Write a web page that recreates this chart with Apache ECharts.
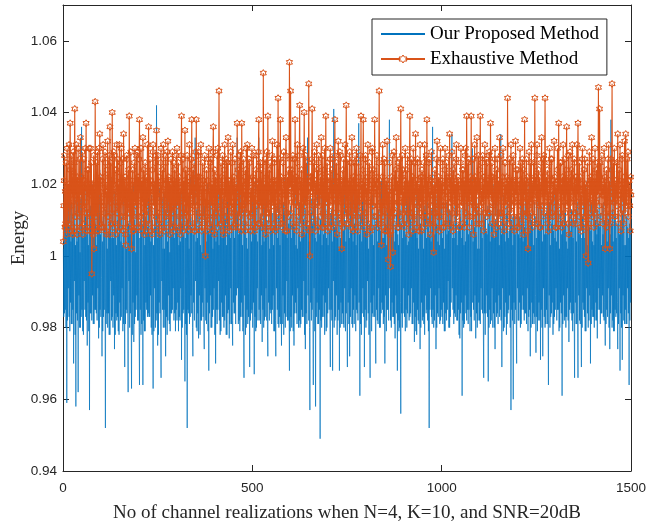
<!DOCTYPE html>
<html><head><meta charset="utf-8">
<script src="https://cdn.jsdelivr.net/npm/echarts@6/dist/echarts.min.js"></script>
<style>html,body{margin:0;padding:0;background:#fff}#c{width:659px;height:523px}</style>
</head><body><div id="c"></div>
<script>
// axis ticks
const xTicks = [0, 500, 1000, 1500];
const yTicks = [0.94, 0.96, 0.98, 1.00, 1.02, 1.04, 1.06];
// realization index of the first value, and spacing
const sampleStart = 1, sampleStep = 1;
// "Our Proposed Method" energy per channel realization
const proposed = [
1.002,0.983,1.013,0.984,1.017,0.985,1.015,0.980,1.006,0.959,1.011,0.982,1.010,0.991,1.019,0.983,1.008,0.979,1.021,0.987,1.004,0.981,1.015,0.981,1.006,0.985,1.012,0.970,1.009,0.993,1.017,0.978,1.003,0.958,1.014,0.984,1.004,0.982,1.018,0.962,1.007,0.989,1.012,0.980,1.001,0.980,1.016,0.983,1.036,0.985,1.010,0.979,1.005,0.978,1.008,0.993,1.020,0.985,1.011,0.983,1.019,0.982,1.006,0.975,1.013,0.987,1.003,0.979,1.017,0.957,1.009,0.984,1.014,0.984,1.002,
0.982,1.010,0.989,1.020,0.981,1.005,0.981,1.016,0.985,1.009,0.985,1.019,0.984,1.003,0.982,1.013,0.991,1.008,0.977,1.012,0.980,1.024,0.985,1.006,0.983,1.015,0.994,0.972,1.004,0.979,1.011,0.983,1.017,0.985,1.008,0.987,0.952,1.013,0.981,1.016,0.984,1.002,0.980,1.019,0.984,1.007,0.978,1.014,0.978,1.010,0.993,1.022,0.982,1.005,0.983,1.012,0.980,1.005,0.989,1.018,0.974,1.009,0.978,1.018,0.984,1.003,0.982,1.015,0.983,1.010,0.979,1.006,0.978,1.013,0.987,
1.015,0.982,1.004,0.983,1.011,0.991,1.003,0.979,1.018,0.981,1.007,0.985,0.969,1.014,0.981,1.012,0.985,1.002,0.984,1.016,0.984,0.962,1.009,0.993,1.019,0.980,1.006,0.984,1.013,0.983,0.963,1.004,0.978,1.008,0.987,1.020,0.976,1.010,0.981,1.014,0.983,1.001,0.985,1.017,0.989,1.021,0.982,1.007,0.982,1.012,0.980,0.964,1.005,0.985,1.010,0.978,1.016,0.981,1.009,0.993,0.964,1.014,0.982,1.017,0.979,1.003,0.979,1.011,0.987,1.006,0.985,1.018,0.983,1.008,0.984,
1.023,0.983,1.006,0.983,1.014,0.989,1.004,0.980,1.017,0.978,1.010,0.985,0.963,1.003,0.979,1.013,0.991,1.008,0.980,1.015,0.982,1.042,0.984,1.005,0.975,1.012,0.978,1.009,0.987,1.019,0.984,1.006,0.981,0.966,1.011,0.993,1.016,0.985,1.002,0.980,1.018,0.985,1.002,0.980,1.013,0.972,1.007,0.983,1.020,0.978,1.004,0.982,1.016,0.989,1.011,0.981,1.001,0.979,1.013,0.984,1.006,0.984,1.017,0.985,1.009,0.991,1.018,0.982,1.005,0.984,1.012,0.979,1.008,0.985,1.015,
0.982,1.008,0.987,1.015,0.979,1.003,0.983,1.012,0.982,1.004,0.991,1.018,0.971,1.009,0.980,1.019,0.984,1.006,0.985,1.014,0.993,0.965,1.005,0.981,1.012,0.978,1.017,0.952,1.010,0.985,1.007,0.984,1.002,0.981,1.016,0.983,1.022,0.989,1.008,0.984,1.011,0.980,0.972,1.006,0.987,1.010,0.982,1.019,1.033,0.993,1.004,0.980,1.013,0.979,1.005,0.984,1.015,0.977,1.008,0.989,1.016,0.978,1.003,0.982,1.012,0.982,1.001,0.987,1.018,0.983,1.007,0.981,0.974,1.014,0.991,
1.013,0.982,1.004,0.981,1.011,0.987,1.020,0.979,1.007,0.968,1.015,0.984,1.006,0.989,1.018,0.980,1.009,0.980,1.017,0.983,1.002,0.985,1.013,0.991,1.009,0.978,1.016,0.970,1.004,0.985,1.014,0.981,1.007,0.985,1.019,0.993,1.003,0.982,1.012,0.978,1.008,0.979,1.021,0.987,1.005,0.983,1.016,0.983,1.008,0.980,1.014,0.982,1.010,0.989,1.012,0.978,1.003,0.978,1.017,0.984,1.018,0.985,1.006,0.977,1.011,0.981,1.005,0.991,1.015,0.981,1.009,0.982,0.975,1.013,0.987,
1.011,0.984,1.005,0.984,1.014,0.981,1.016,0.989,1.008,1.033,0.991,1.012,0.981,1.006,0.982,1.007,0.979,1.018,0.983,1.011,0.987,1.019,0.983,1.003,0.979,1.013,0.980,0.966,1.009,0.989,1.010,0.978,1.016,0.980,1.005,0.985,1.002,0.981,1.019,0.983,1.012,0.993,0.969,1.007,0.982,1.015,0.984,1.004,0.985,1.017,0.980,1.008,0.987,1.013,0.967,1.010,0.983,1.021,0.979,1.006,0.980,1.014,0.991,1.004,0.982,1.019,1.033,0.985,1.008,0.982,1.011,0.981,1.012,0.989,1.003,
0.976,1.009,0.985,1.017,0.980,1.004,0.982,1.015,0.983,1.006,0.991,1.018,0.982,1.010,0.979,0.972,1.006,0.987,1.013,0.982,1.002,0.985,1.016,0.984,1.020,0.981,1.007,0.985,1.012,0.989,1.003,0.979,1.017,0.979,1.008,0.982,0.972,1.014,0.991,1.011,0.985,1.005,0.981,1.019,0.980,1.016,0.983,1.003,0.981,1.010,0.987,0.975,1.007,0.981,1.008,0.989,1.015,0.978,1.012,0.984,1.022,0.980,1.006,0.983,1.016,0.993,1.005,0.982,1.013,0.982,1.009,0.985,0.968,1.011,0.979,
1.014,0.983,1.005,0.980,1.012,0.989,1.009,0.979,1.019,0.975,1.008,0.984,1.018,0.987,1.003,0.984,1.015,0.981,1.002,0.991,1.011,0.980,1.006,0.982,1.015,0.980,1.004,0.981,1.017,0.985,1.007,0.983,1.014,0.983,1.010,0.993,1.020,0.978,1.006,0.974,1.013,0.984,1.010,0.981,1.018,1.033,0.989,1.008,0.982,1.004,0.980,0.957,1.012,0.987,1.012,0.982,1.016,0.985,1.009,0.985,0.964,1.014,0.991,1.016,0.979,1.005,0.958,1.011,0.983,1.004,0.987,1.017,0.981,1.008,0.981,
1.011,0.985,1.006,0.949,1.010,0.982,1.017,0.980,1.003,0.983,1.014,0.989,1.006,0.983,1.019,0.978,1.009,0.987,1.021,0.979,1.005,0.980,1.013,0.984,1.003,0.991,1.016,0.985,1.007,0.981,0.969,1.012,0.985,1.013,0.982,1.004,0.968,1.015,0.993,1.041,0.980,1.008,0.982,1.011,0.983,1.008,0.989,1.018,0.978,1.006,0.982,1.019,0.985,1.002,0.968,1.010,0.980,1.005,0.987,1.016,0.981,1.012,0.984,1.014,0.981,1.007,0.980,1.017,0.991,1.010,0.979,1.004,0.984,1.013,0.983,
0.969,1.008,0.987,1.012,0.981,1.005,0.972,1.016,0.983,1.018,0.991,1.007,0.981,1.011,0.980,1.004,0.985,1.019,0.981,1.009,0.989,1.015,0.979,1.003,0.985,1.014,0.984,1.009,0.982,1.017,1.037,0.987,1.006,0.961,1.012,0.981,1.011,0.978,1.004,0.984,1.018,0.991,1.020,0.983,1.008,0.969,1.013,0.985,1.007,0.980,1.015,0.982,1.010,0.993,1.016,0.984,1.002,0.978,1.009,0.982,0.966,1.014,0.987,1.013,0.979,1.006,0.984,1.017,0.983,1.003,0.989,1.012,0.983,1.008,0.981,
0.970,1.011,0.985,1.017,0.982,1.004,0.981,1.013,0.991,1.008,0.980,1.018,0.980,1.007,0.984,1.021,0.987,1.005,0.985,1.015,0.981,1.005,0.983,1.012,0.970,1.009,0.989,1.014,0.979,1.003,0.985,1.016,0.985,1.010,0.982,1.019,1.038,0.991,1.007,0.982,1.012,0.980,1.006,0.987,1.014,0.983,1.010,0.983,1.019,0.981,1.004,0.977,1.008,0.989,1.012,0.984,1.017,0.968,1.006,0.982,1.003,0.979,1.015,0.980,1.013,0.987,0.956,1.009,0.984,1.015,0.980,1.005,0.984,1.011,0.991,
1.009,0.983,1.016,0.979,1.006,0.985,1.018,0.980,1.003,0.984,1.012,0.989,1.004,0.982,1.017,0.983,1.010,0.984,1.013,0.991,1.006,0.981,1.015,0.981,1.022,0.987,1.008,0.976,1.011,0.983,1.007,0.979,1.019,0.978,1.005,0.985,1.016,0.982,1.002,0.981,1.013,0.993,0.974,1.009,0.980,1.011,0.987,1.018,0.982,1.007,0.983,1.002,0.981,1.014,0.978,1.012,0.989,1.019,0.984,1.005,0.985,1.016,0.982,1.008,0.979,1.011,0.952,1.006,0.985,1.014,0.991,1.004,0.983,1.013,0.981,
1.036,0.985,1.007,0.980,1.014,0.982,1.006,0.989,1.018,0.974,1.009,0.980,1.017,0.984,1.004,0.983,1.012,0.991,1.003,0.981,1.016,0.982,1.008,0.985,1.020,0.983,1.005,0.981,1.015,0.987,1.010,0.979,1.002,0.979,1.011,0.984,1.015,0.982,1.006,0.985,1.017,0.993,1.007,0.980,1.013,0.980,1.010,0.983,1.012,0.987,1.019,1.034,0.991,1.005,0.985,1.009,0.981,1.005,0.984,1.016,0.983,1.013,0.989,1.018,0.982,1.003,0.982,1.007,0.985,1.009,0.978,1.014,0.977,1.011,0.984,
1.013,0.987,1.005,0.961,1.009,0.982,1.016,0.980,1.003,0.981,1.012,0.989,1.004,0.984,1.017,0.982,1.010,0.985,1.021,0.981,1.006,0.985,1.014,0.991,0.979,1.007,0.983,1.010,0.979,1.018,1.030,0.987,1.004,0.985,1.011,0.982,1.008,0.989,1.015,0.977,1.006,0.984,1.014,0.980,1.002,0.982,1.016,0.987,1.002,0.982,1.012,0.981,1.008,0.991,1.018,0.985,1.005,0.984,1.013,0.981,0.966,1.010,0.984,1.011,0.978,1.017,0.984,1.007,0.989,1.006,0.983,1.014,0.965,1.009,0.980,
1.015,0.985,1.004,0.981,1.012,0.982,1.009,0.991,1.018,0.980,1.006,0.984,1.020,0.980,1.005,0.974,1.010,0.987,1.007,0.983,1.016,0.984,1.013,0.981,1.013,0.989,1.003,0.983,1.008,0.985,1.034,0.982,1.006,0.969,1.011,0.991,1.012,0.979,1.017,0.980,1.009,0.983,1.004,0.987,1.014,0.978,1.012,0.981,1.017,0.984,1.005,0.985,1.007,0.989,1.008,0.980,1.019,0.957,1.010,0.985,1.011,0.982,1.003,0.960,1.013,0.987,1.016,0.981,1.006,0.985,1.011,0.984,0.970,1.008,0.991,
1.014,0.982,1.006,0.982,1.011,0.987,1.005,0.980,1.017,0.981,1.009,0.985,1.019,0.989,1.004,0.985,1.014,0.982,1.008,0.984,1.016,0.984,1.006,0.981,1.012,0.991,1.003,0.979,1.010,0.983,1.021,0.985,1.007,0.972,1.012,0.980,1.010,0.987,1.018,0.981,1.008,0.984,1.003,0.981,1.015,0.983,1.011,0.989,0.973,1.005,0.983,1.016,0.979,1.009,0.982,1.013,0.987,1.007,0.982,1.019,0.971,1.010,0.985,1.013,0.980,1.004,0.972,1.015,0.991,1.018,0.983,1.006,0.980,1.012,0.981,
1.006,0.985,1.014,0.981,1.009,0.982,0.964,1.011,0.989,1.015,0.980,1.003,0.983,1.016,0.984,1.009,0.987,1.018,0.978,1.007,0.981,1.020,0.983,1.005,0.985,1.012,0.991,1.004,0.982,1.017,0.985,1.008,0.985,1.012,0.979,1.002,0.980,1.014,0.987,1.017,0.984,1.006,0.961,1.010,0.981,1.008,0.989,1.015,0.982,1.012,0.983,1.014,0.980,1.004,0.983,1.009,0.991,1.002,0.982,1.016,0.976,1.011,0.985,1.019,0.987,1.007,0.984,1.013,0.982,1.010,0.979,1.005,0.984,1.016,0.984,
0.966,1.010,0.987,1.013,0.981,1.004,0.981,1.015,0.984,0.966,1.008,0.989,1.016,0.982,1.006,0.981,1.012,0.985,0.969,1.005,0.980,1.011,0.987,1.017,0.985,1.009,0.983,1.005,0.979,1.014,0.979,1.011,0.991,1.021,0.984,1.003,0.980,1.016,0.982,1.008,0.989,1.019,0.970,1.007,0.981,1.015,0.985,1.004,0.983,1.012,0.983,1.003,0.980,1.016,0.982,1.010,0.987,1.018,0.982,1.006,0.977,1.013,0.985,1.009,0.991,1.017,0.985,1.008,0.981,1.012,0.984,1.003,0.984,1.014,0.989,
1.006,0.983,1.015,0.982,1.010,0.987,0.975,1.008,0.981,1.017,0.985,1.004,0.983,1.012,0.991,1.010,0.980,1.018,0.974,1.006,0.984,1.038,0.989,1.009,0.980,1.013,0.982,1.004,0.979,1.016,0.979,1.011,0.985,1.019,0.983,1.005,0.984,1.009,0.987,0.974,1.014,0.981,1.012,0.991,1.006,0.968,1.010,0.984,1.008,0.980,1.017,0.971,1.012,0.989,1.015,0.982,1.003,0.981,1.016,0.985,1.003,0.981,1.011,0.981,1.008,0.991,1.014,0.984,1.005,0.964,1.009,0.982,1.010,0.987,1.013
];
// "Exhaustive Method" energy per channel realization
const exhaustive = [
1.004,1.014,1.021,1.028,1.008,1.018,1.009,1.026,1.006,1.019,1.030,1.012,1.008,1.020,1.015,1.031,1.009,1.024,1.037,1.017,1.007,1.014,1.028,1.019,1.022,1.006,1.029,1.007,1.018,1.026,1.041,1.011,1.021,1.017,1.031,1.008,1.006,1.022,1.015,1.030,1.012,1.020,1.011,1.027,1.008,1.033,1.017,1.022,1.020,1.008,1.029,1.006,1.019,1.014,1.027,1.009,1.021,1.012,1.030,1.018,1.037,1.015,1.007,1.008,1.024,1.019,1.024,1.012,1.030,1.007,1.020,1.011,1.030,1.017,1.026,
0.995,1.009,1.020,1.018,1.006,1.028,1.002,1.014,1.008,1.043,1.019,1.011,1.015,1.026,1.007,1.029,1.012,1.021,1.007,1.030,1.017,1.034,1.009,1.022,1.021,1.008,1.015,1.008,1.027,1.019,1.031,1.014,1.008,1.012,1.022,1.029,1.026,1.007,1.018,1.006,1.017,1.024,1.032,1.011,1.020,1.019,1.028,1.006,1.036,1.015,1.026,1.009,1.021,1.012,1.040,1.018,1.008,1.017,1.029,1.020,1.028,1.009,1.015,1.006,1.024,1.018,1.031,1.012,1.027,1.014,1.020,1.007,1.022,1.031,1.015,
1.008,1.019,1.026,1.030,1.011,1.017,1.018,1.027,1.007,1.034,1.015,1.021,1.011,1.022,1.006,1.003,1.017,1.028,1.027,1.008,1.019,1.015,1.024,1.012,1.039,1.018,1.009,1.020,1.029,1.014,1.002,1.012,1.021,1.024,1.007,1.018,1.007,1.026,1.015,1.030,1.014,1.020,1.014,1.028,1.008,1.029,1.011,1.022,1.008,1.019,1.027,1.038,1.017,1.011,1.019,1.030,1.007,1.009,1.021,1.015,1.033,1.012,1.024,1.017,1.006,1.020,1.026,1.018,1.009,1.007,1.022,1.014,1.031,1.015,1.021,
1.036,1.018,1.009,1.012,1.027,1.019,1.021,1.007,1.015,1.006,1.024,1.029,1.031,1.014,1.020,1.018,1.008,1.026,1.028,1.017,1.011,1.035,1.020,1.015,1.009,1.028,1.018,1.022,1.012,1.007,1.006,1.019,1.026,1.030,1.009,1.017,1.015,1.024,1.021,1.031,1.014,1.008,1.007,1.020,1.028,1.026,1.011,1.018,1.017,1.029,1.012,1.032,1.015,1.022,1.011,1.021,1.006,1.020,1.009,1.027,1.008,1.018,1.014,1.029,1.012,1.021,1.014,1.026,1.007,1.024,1.017,1.019,1.008,1.028,1.015,
1.030,1.014,1.020,1.015,1.026,1.008,1.022,1.011,1.018,1.006,1.019,1.028,1.039,1.017,1.012,1.018,1.027,1.007,1.009,1.021,1.015,1.035,1.012,1.024,1.020,1.008,1.017,1.028,1.018,1.011,1.007,1.015,1.022,1.031,1.009,1.019,1.012,1.027,1.017,1.038,1.019,1.008,1.017,1.024,1.014,1.026,1.007,1.020,1.007,1.029,1.018,1.038,1.014,1.022,1.019,1.009,1.028,1.029,1.017,1.012,1.011,1.022,1.019,1.031,1.015,1.007,1.008,1.020,1.026,1.021,1.011,1.018,1.015,1.028,1.009,
1.000,1.011,1.019,1.024,1.015,1.007,1.012,1.021,1.027,1.030,1.009,1.018,1.008,1.026,1.015,1.027,1.014,1.020,1.017,1.007,1.029,1.036,1.019,1.011,1.006,1.024,1.015,1.022,1.012,1.018,1.014,1.028,1.008,1.030,1.017,1.021,1.046,1.020,1.012,1.019,1.009,1.026,1.009,1.022,1.017,1.028,1.014,1.007,1.006,1.018,1.024,1.031,1.011,1.020,1.018,1.027,1.009,1.026,1.015,1.019,1.033,1.008,1.021,1.007,1.020,1.014,1.021,1.029,1.011,1.012,1.018,1.026,1.031,1.015,1.008,
1.015,1.022,1.009,1.027,1.012,1.019,1.008,1.020,1.015,1.037,1.018,1.024,1.019,1.008,1.028,1.011,1.026,1.017,1.029,1.014,1.007,1.037,1.021,1.012,1.014,1.019,1.027,1.022,1.009,1.018,1.007,1.024,1.015,1.030,1.012,1.020,1.031,1.017,1.008,1.017,1.027,1.021,1.026,1.011,1.018,1.007,1.019,1.012,1.030,1.015,1.022,1.012,1.028,1.009,1.021,1.007,1.017,1.008,1.024,1.019,1.028,1.014,1.020,1.018,1.009,1.029,1.038,1.015,1.021,1.009,1.026,1.014,1.024,1.018,1.008,
1.015,1.026,1.011,1.051,1.019,1.014,1.020,1.008,1.027,1.006,1.018,1.022,1.029,1.012,1.019,1.039,1.015,1.009,1.012,1.024,1.018,1.026,1.007,1.020,1.008,1.028,1.015,1.032,1.014,1.021,1.018,1.009,1.026,1.027,1.017,1.007,1.008,1.021,1.019,1.031,1.012,1.015,1.044,1.020,1.011,1.014,1.027,1.018,1.038,1.009,1.022,1.021,1.017,1.008,1.009,1.026,1.019,1.029,1.014,1.021,1.017,1.007,1.028,1.033,1.018,1.012,1.007,1.022,1.017,1.024,1.011,1.020,1.054,1.019,1.027,
1.046,1.021,1.012,1.015,1.024,1.018,1.028,1.009,1.020,1.008,1.027,1.015,1.038,1.017,1.022,1.019,1.007,1.026,1.031,1.014,1.019,1.011,1.021,1.028,1.042,1.018,1.009,1.021,1.012,1.024,1.006,1.019,1.015,1.030,1.011,1.021,1.040,1.020,1.014,1.017,1.028,1.008,1.026,1.015,1.020,1.009,1.022,1.017,1.048,1.019,1.007,1.000,1.012,1.022,1.022,1.018,1.027,1.041,1.015,1.011,1.014,1.026,1.019,1.029,1.009,1.021,1.007,1.020,1.015,1.031,1.017,1.024,1.018,1.008,1.028,
1.026,1.014,1.019,1.011,1.022,1.017,1.033,1.018,1.008,1.020,1.028,1.012,1.008,1.017,1.024,1.030,1.009,1.019,1.039,1.015,1.021,1.015,1.026,1.007,1.022,1.011,1.018,1.008,1.020,1.027,1.030,1.014,1.017,1.018,1.024,1.009,1.027,1.008,1.020,1.012,1.019,1.028,1.038,1.017,1.011,1.021,1.026,1.015,1.006,1.018,1.022,1.032,1.012,1.019,1.017,1.029,1.009,1.028,1.015,1.021,1.002,1.011,1.018,1.024,1.008,1.027,1.014,1.021,1.017,1.031,1.012,1.020,1.042,1.019,1.009,
1.019,1.027,1.012,1.009,1.020,1.017,1.029,1.011,1.021,1.015,1.026,1.008,1.033,1.018,1.014,1.007,1.022,1.019,1.026,1.012,1.028,1.018,1.008,1.020,1.030,1.015,1.011,1.007,1.019,1.026,1.022,1.014,1.017,1.012,1.028,1.020,1.039,1.009,1.018,1.020,1.015,1.024,1.038,1.017,1.008,1.011,1.021,1.027,1.028,1.012,1.019,1.006,1.018,1.022,1.031,1.015,1.009,1.017,1.026,1.020,1.024,1.007,1.015,1.008,1.021,1.029,1.030,1.014,1.018,1.014,1.024,1.011,1.038,1.019,1.021,
1.019,1.011,1.022,1.028,1.017,1.008,1.009,1.020,1.026,1.046,1.018,1.012,1.021,1.009,1.015,1.003,1.014,1.022,1.031,1.011,1.019,1.015,1.027,1.007,1.026,1.017,1.020,1.007,1.021,1.014,1.032,1.012,1.018,0.999,1.008,1.020,1.018,1.026,1.006,0.997,1.007,1.017,1.022,1.011,1.028,1.001,1.015,1.009,1.029,1.019,1.012,1.012,1.024,1.018,1.033,1.014,1.021,1.019,1.008,1.026,1.008,1.020,1.015,1.027,1.011,1.019,1.041,1.017,1.022,1.015,1.028,1.009,1.024,1.012,1.018,
1.008,1.021,1.015,1.030,1.014,1.019,1.017,1.024,1.009,1.028,1.012,1.020,1.006,1.018,1.026,1.039,1.015,1.011,1.020,1.027,1.017,1.012,1.022,1.007,1.030,1.011,1.019,1.009,1.026,1.015,1.034,1.017,1.021,1.018,1.008,1.027,1.026,1.014,1.019,1.007,1.020,1.012,1.031,1.015,1.022,1.015,1.007,1.024,1.022,1.018,1.011,1.008,1.026,1.020,1.031,1.012,1.017,1.019,1.028,1.009,1.038,1.015,1.021,1.011,1.020,1.026,1.027,1.009,1.018,1.006,1.021,1.014,1.029,1.017,1.022,
1.017,1.009,1.020,1.001,1.012,1.018,1.024,1.015,1.008,1.012,1.027,1.019,1.032,1.017,1.011,1.019,1.022,1.014,1.007,1.018,1.026,1.030,1.011,1.020,1.014,1.021,1.017,1.027,1.008,1.015,1.008,1.019,1.024,1.030,1.014,1.009,1.018,1.026,1.020,1.022,1.012,1.017,1.009,1.028,1.019,1.034,1.015,1.022,1.015,1.008,1.021,1.029,1.018,1.012,1.007,1.024,1.017,1.026,1.014,1.020,1.019,1.009,1.027,1.031,1.017,1.012,1.011,1.022,1.019,1.021,1.015,1.008,1.008,1.020,1.026,
1.030,1.014,1.019,1.015,1.024,1.009,1.024,1.017,1.021,1.008,1.020,1.028,1.030,1.012,1.018,1.039,1.019,1.011,1.018,1.026,1.015,1.027,1.008,1.020,1.011,1.022,1.017,1.039,1.015,1.021,1.020,1.011,1.027,1.006,1.018,1.014,1.031,1.012,1.022,1.014,1.021,1.009,1.033,1.017,1.019,1.021,1.028,1.012,1.009,1.019,1.024,1.039,1.014,1.018,1.017,1.009,1.026,1.028,1.015,1.020,1.007,1.022,1.017,1.031,1.012,1.019,1.019,1.027,1.011,1.026,1.017,1.021,1.012,1.020,1.028,
1.029,1.012,1.019,1.037,1.017,1.022,1.015,1.026,1.009,1.022,1.014,1.018,1.006,1.020,1.027,1.030,1.011,1.017,1.018,1.024,1.008,1.027,1.015,1.020,1.009,1.021,1.017,1.033,1.012,1.019,1.020,1.028,1.011,1.012,1.019,1.022,1.030,1.009,1.015,1.007,1.018,1.026,1.026,1.014,1.020,1.017,1.022,1.011,1.044,1.018,1.015,1.021,1.009,1.027,1.008,1.020,1.017,1.031,1.012,1.021,1.014,1.026,1.018,1.028,1.011,1.019,1.007,1.021,1.015,1.032,1.017,1.024,1.019,1.008,1.020,
1.024,1.015,1.008,1.011,1.021,1.018,1.030,1.014,1.026,1.015,1.009,1.020,1.027,1.018,1.012,1.006,1.024,1.017,1.038,1.015,1.021,1.020,1.011,1.027,1.012,1.022,1.007,1.002,1.014,1.019,1.029,1.017,1.009,1.018,1.026,1.015,1.031,1.012,1.020,1.008,1.021,1.017,1.026,1.011,1.019,1.044,1.018,1.022,1.017,1.009,1.028,1.031,1.015,1.020,1.009,1.024,1.014,1.022,1.017,1.008,1.008,1.019,1.026,1.033,1.014,1.018,1.019,1.027,1.011,1.028,1.012,1.021,1.044,1.020,1.015,
1.014,1.022,1.018,1.024,1.009,1.017,1.007,1.020,1.026,1.030,1.015,1.011,1.017,1.027,1.020,1.027,1.012,1.018,1.011,1.021,1.015,1.032,1.017,1.022,1.020,1.008,1.019,1.008,1.018,1.024,1.030,1.014,1.009,1.037,1.019,1.021,1.015,1.026,1.012,1.026,1.011,1.020,1.008,1.022,1.017,1.031,1.015,1.009,1.019,1.027,1.021,1.012,1.018,1.024,1.036,1.014,1.019,1.021,1.009,1.028,1.006,1.020,1.015,1.029,1.012,1.022,1.015,1.024,1.018,1.031,1.017,1.011,1.009,1.021,1.027,
1.026,1.012,1.019,1.018,1.022,1.009,1.031,1.015,1.021,1.037,1.019,1.014,1.011,1.026,1.018,1.022,1.008,1.017,1.007,1.020,1.027,1.030,1.014,1.019,1.015,1.024,1.011,1.027,1.009,1.020,1.000,1.011,1.018,1.019,1.026,1.008,0.998,1.009,1.020,1.029,1.015,1.022,1.012,1.021,1.017,1.033,1.018,1.011,1.020,1.027,1.015,1.008,1.019,1.022,1.030,1.012,1.020,1.015,1.024,1.009,1.026,1.017,1.021,1.047,1.020,1.014,1.041,1.018,1.026,1.018,1.011,1.021,1.028,1.017,1.019,
1.009,1.020,1.017,1.030,1.014,1.022,1.002,1.012,1.019,1.024,1.008,1.018,1.015,1.027,1.011,1.031,1.017,1.021,1.002,1.015,1.009,1.027,1.019,1.024,1.048,1.018,1.012,1.019,1.026,1.015,1.030,1.011,1.020,1.011,1.021,1.017,1.026,1.014,1.019,1.034,1.018,1.009,1.017,1.024,1.020,1.031,1.012,1.017,1.007,1.021,1.027,1.028,1.015,1.018,1.020,1.009,1.022,1.032,1.017,1.012,1.034,1.020,1.015,1.014,1.027,1.019,1.029,1.011,1.021,1.021,1.018,1.014,1.007,1.022,1.017
];
const seriesNames = ['Our Proposed Method', 'Exhaustive Method'];
const xName = 'No of channel realizations when N=4, K=10, and SNR=20dB';
const yName = 'Energy';

const toPairs = arr => arr.map((v, i) => [sampleStart + sampleStep * i, v]);
const C = '#262626';
const BLUE = '#0072BD', ORANGE = '#D95319';
const hex = 'path://M0 -10 L2.887 -5 L8.66 -5 L5.774 0 L8.66 5 L2.887 5 L0 10 L-2.887 5 L-8.66 5 L-5.774 0 L-8.66 -5 L-2.887 -5 Z';
const sans = 'Liberation Sans, Arial, sans-serif';
const serif = 'Liberation Serif, Times New Roman, serif';

const axCommon = {
  axisLine: {show: true, onZero: false, lineStyle: {color: C, width: 1}},
  splitLine: {show: false},
  nameMoveOverlap: false
};
const tick = vals => ({show: true, inside: true, length: 6, customValues: vals, lineStyle: {color: C, width: 1}});
const chart = echarts.init(document.getElementById('c'));
chart.setOption({
  animation: false,
  backgroundColor: '#fff',
  grid: {left: 63, top: 5, width: 568, height: 466, show: false, outerBoundsMode: 'none', containLabel: false},
  legend: {
    left: 372, top: 19, orient: 'vertical',
    padding: [4, 8, 5, 8], itemGap: 3, itemWidth: 44, itemHeight: 10,
    borderColor: C, borderWidth: 1, backgroundColor: '#fff',
    textStyle: {fontFamily: serif, fontSize: 19, color: '#000', lineHeight: 22},
    data: [
      {name: seriesNames[0], itemStyle: {color: 'rgba(0,0,0,0)', borderColor: 'rgba(0,0,0,0)', borderWidth: 0}},
      {name: seriesNames[1], itemStyle: {color: '#fff', borderColor: ORANGE, borderWidth: 1}}
    ]
  },
  xAxis: [
    Object.assign({}, axCommon, {
      type: 'value', min: 0, max: 1500, interval: 500, position: 'bottom',
      axisTick: tick(xTicks),
      axisLabel: {customValues: xTicks, color: C, fontFamily: sans, fontSize: 13.5, margin: 10, formatter: v => String(v)},
      name: xName, nameLocation: 'middle', nameGap: 33,
      nameTextStyle: {fontFamily: serif, fontSize: 19, color: C}
    }),
    Object.assign({}, axCommon, {
      type: 'value', min: 0, max: 1500, interval: 500, position: 'top',
      axisTick: tick(xTicks), axisLabel: {show: false}
    })
  ],
  yAxis: [
    Object.assign({}, axCommon, {
      type: 'value', min: 0.94, max: 1.07, interval: 0.02, position: 'left',
      axisTick: tick(yTicks),
      axisLabel: {customValues: yTicks, color: C, fontFamily: sans, fontSize: 13.5, margin: 6,
        formatter: v => String(+(+v).toFixed(2))},
      name: yName, nameLocation: 'middle', nameGap: 34,
      nameTextStyle: {fontFamily: serif, fontSize: 19, color: C}
    }),
    Object.assign({}, axCommon, {
      type: 'value', min: 0.94, max: 1.07, interval: 0.02, position: 'right',
      axisTick: tick(yTicks), axisLabel: {show: false}
    })
  ],
  series: [
    {
      name: seriesNames[0], type: 'line', data: toPairs(proposed),
      symbol: 'none', lineStyle: {color: BLUE, width: 0.7},
      itemStyle: {color: BLUE}, z: 2
    },
    {
      name: seriesNames[1], type: 'line', data: toPairs(exhaustive),
      symbol: hex, symbolSize: 7, symbolKeepAspect: true, showAllSymbol: true,
      lineStyle: {color: ORANGE, width: 1.1},
      itemStyle: {color: 'none', borderColor: ORANGE, borderWidth: 1}, z: 3
    }
  ]
});
</script></body></html>
